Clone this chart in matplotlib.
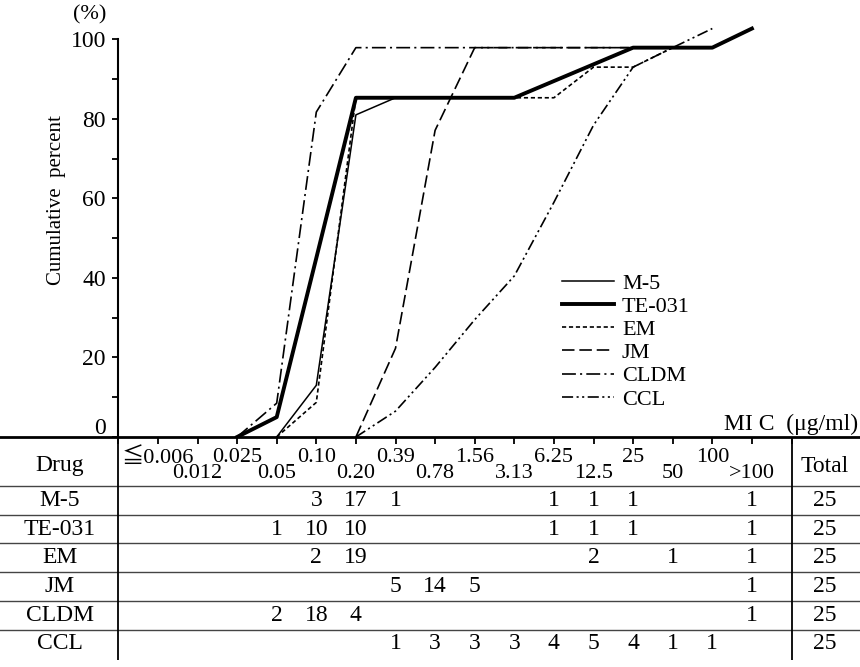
import numpy as np
import matplotlib
matplotlib.use("Agg")
import matplotlib.pyplot as plt
from matplotlib.transforms import ScaledTranslation, blended_transform_factory

plt.rcParams['font.family'] = ['Liberation Serif', 'DejaVu Serif', 'Noto Sans CJK JP']
plt.rcParams['lines.scale_dashes'] = False

# MIC steps (ug/ml)
mic_labels = ["≦0.006", "0.012", "0.025", "0.05", "0.10", "0.20", "0.39", "0.78",
              "1.56", "3.13", "6.25", "12.5", "25", "50", "100", ">100"]

drugs = ["M-5", "TE-031", "EM", "JM", "CLDM", "CCL"]

# number of strains per MIC step
m5_counts   = [0, 0, 0, 0, 3, 17, 1, 0, 0, 0, 1, 1, 1, 0, 0, 1]
te031_counts = [0, 0, 0, 1, 10, 10, 0, 0, 0, 0, 1, 1, 1, 0, 0, 1]
em_counts   = [0, 0, 0, 0, 2, 19, 0, 0, 0, 0, 0, 2, 0, 1, 0, 1]
jm_counts   = [0, 0, 0, 0, 0, 0, 5, 14, 5, 0, 0, 0, 0, 0, 0, 1]
cldm_counts = [0, 0, 0, 2, 18, 4, 0, 0, 0, 0, 0, 0, 0, 0, 0, 1]
ccl_counts  = [0, 0, 0, 0, 0, 0, 1, 3, 3, 3, 4, 5, 4, 1, 1, 0]
totals = [25, 25, 25, 25, 25, 25]

# cumulative percent as drawn in the figure
n = np.nan
m5_pct    = [n, n, n, 0, 13, 81, 85.3, 85.3, 85.3, 85.3, 89.5, 93.7, 97.9, 97.9, 97.9, 102.7]
te031_pct = [n, n, 0, 5, 45, 85.3, 85.3, 85.3, 85.3, 85.3, 89.5, 93.7, 97.9, 97.9, 97.9, 102.7]
em_pct    = [n, n, n, 0, 8.7, 85.3, 85.3, 85.3, 85.3, 85.3, 85.3, 93, 93, 97.9, 97.9, 102.7]
jm_pct    = [n, n, n, n, n, 0, 22.3, 77.1, 97.9, 97.9, 97.9, 97.9, 97.9, 97.9, 97.9, 102.7]
cldm_pct  = [n, n, 0, 8.5, 81.7, 97.9, 97.9, 97.9, 97.9, 97.9, 97.9, 97.9, 97.9, 97.9, 97.9, 102.7]
ccl_pct   = [n, n, n, n, n, 0, 6.5, 17.5, 29.5, 40.5, 59, 78.4, 93, 97.9, 102.7, n]

W, H = 860, 667
fig = plt.figure(figsize=(W / 100, H / 100), dpi=100)

x0_px, step_px = 118.3, 39.6      # y-axis position and spacing of MIC steps
base_px, unit_px = 437, 3.977     # zero line and px per percent

ax = fig.add_axes([0, (H - base_px) / H, 1, base_px / H])
ax.set_xlim(-x0_px / step_px, (W - x0_px) / step_px)
ax.set_ylim(0, base_px / unit_px)

x = np.arange(1, len(mic_labels) + 1)
styles = [
    dict(lw=1.1, ls='-'),
    dict(lw=2.8, ls='-'),
    dict(lw=1.2, dashes=(3, 2)),
    dict(lw=1.2, dashes=(9, 3.5)),
    dict(lw=1.2, dashes=(10, 3, 1.5, 3)),
    dict(lw=1.2, dashes=(8, 2.5, 1.5, 2.5, 1.5, 2.5)),
]
series = [m5_pct, te031_pct, em_pct, jm_pct, cldm_pct, ccl_pct]
handles = []
for name, vals, st in zip(drugs, series, styles):
    line, = ax.plot(x, vals, color='black', label=name,
                    zorder=4 if name == "TE-031" else 3, **st)
    handles.append(line)

for s in ['top', 'right']:
    ax.spines[s].set_visible(False)
ax.spines['left'].set_position(('data', 0))
ax.spines['left'].set_bounds(0, 100)
ax.spines['left'].set_linewidth(1.5)
ax.spines['bottom'].set_linewidth(2)

ax.set_xticks(np.arange(0, len(mic_labels) + 2))
ax.tick_params(axis='x', direction='out', length=5, width=1.3, labelbottom=False)
ax.set_yticks([0, 20, 40, 60, 80, 100])
ax.set_yticks([10, 30, 50, 70, 90], minor=True)
ax.tick_params(axis='y', which='both', direction='out', length=4, width=1.3,
               labelsize=17, pad=5)
zero_lbl = ax.yaxis.get_major_ticks()[0].label1
zero_lbl.set_transform(zero_lbl.get_transform() + ScaledTranslation(0, 8 / 72, fig.dpi_scale_trans))

leg = ax.legend(handles=handles, loc='upper left', frameon=False, fontsize=16,
                bbox_to_anchor=(562 / W, 1 - 273 / base_px), borderpad=0,
                borderaxespad=0, handlelength=2.35, handletextpad=0.35,
                labelspacing=0.12)

fig.text(57 / W, 1 - 200 / H, "Cumulative  percent", rotation=90, fontsize=15,
         ha='center', va='center')
fig.text(90 / W, 1 - 15 / H, "(%)", fontsize=16, ha='center', va='center')
fig.text(858 / W, 1 - 424 / H, "MI C  (μg/ml)", fontsize=17, ha='right', va='center')

# table under the axis
tb = fig.add_axes([0, 0, 1, (H - base_px) / H])
tb.set_xlim(ax.get_xlim())
tb.set_ylim(H, base_px)
tb.axis('off')
tr = blended_transform_factory(tb.transAxes, tb.transData)

for i, lab in enumerate(mic_labels):
    tb.text(i + 1, 458 if i % 2 == 0 else 474, lab, fontsize=16,
            ha='center', va='center')
tb.text(60 / W, 466, "Drug", fontsize=17, ha='center', va='center', transform=tr)
tb.text(825 / W, 466, "Total", fontsize=17, ha='center', va='center', transform=tr)

all_counts = [m5_counts, te031_counts, em_counts, jm_counts, cldm_counts, ccl_counts]
row_top, row_h = 486, 28.7
for r, (name, counts, tot) in enumerate(zip(drugs, all_counts, totals)):
    yc = row_top + row_h * (r + 0.5)
    tb.text(60 / W, yc, name, fontsize=17, ha='center', va='center', transform=tr)
    for i, c in enumerate(counts):
        if c:
            tb.text(i + 1, yc, str(c), fontsize=17, ha='center', va='center')
    tb.text(825 / W, yc, str(tot), fontsize=17, ha='center', va='center', transform=tr)
    tb.axhline(row_top + row_h * r, color='#444444', lw=1.0)

tb.vlines([0, len(mic_labels) + 1], base_px, 660, color='black', lw=1.3)

fig.savefig("out.png", dpi=100)
